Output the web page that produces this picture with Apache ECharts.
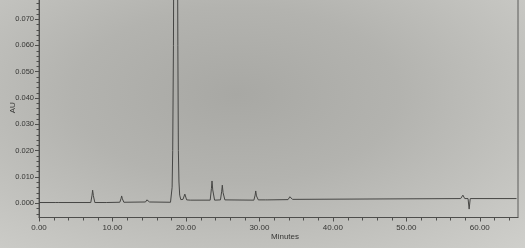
<!DOCTYPE html>
<html>
<head>
<meta charset="utf-8">
<script src="https://cdn.jsdelivr.net/npm/echarts@6/dist/echarts.min.js"></script>
<style>
html,body{margin:0;padding:0;}
body{width:525px;height:248px;overflow:hidden;
background:radial-gradient(ellipse at 45% 38%, #a8a8a4 0%, #b3b3af 40%, #c6c6c2 80%, #cfcfcb 100%);}
#c{width:525px;height:248px;}
</style>
</head>
<body>
<div id="c"></div>
<script>
// Retention time (minutes) and absorbance (AU)
const times = [0, 2.2, 2.45, 2.7, 7.05, 7.22, 7.3, 7.4, 7.6, 8.85, 9.0, 9.15,
  11.0, 11.18, 11.25, 11.35, 11.55, 14.5, 14.68, 14.75, 14.85, 15.05,
  17.9, 18.05, 18.12, 18.2, 18.3, 18.6, 18.9, 18.97, 19.05, 19.15, 19.3, 19.6, 19.85, 20.1, 20.6,
  23.3, 23.47, 23.55, 23.65, 23.9, 24.7, 24.87, 24.95, 25.05, 25.3,
  29.25, 29.42, 29.5, 29.6, 29.85, 30.85, 31.0, 31.15, 33.9, 34.07, 34.15, 34.25, 34.5,
  57.4, 57.7, 57.95, 58.4, 58.55, 58.7, 65];
const values = [0.0002, 0.0002, 0.0007, 0.0002, 0.0002, 0.0030, 0.0049, 0.0028, 0.0002, 0.0002, 0.0006, 0.0002,
  0.0003, 0.0018, 0.0027, 0.0016, 0.0003, 0.0004, 0.0012, 0.0018, 0.0011, 0.0004,
  0.0003, 0.0010, 0.0060, 0.0200, 0.0600, 0.3000, 0.0600, 0.0200, 0.0080, 0.0030, 0.0013, 0.0014, 0.0034, 0.0012, 0.0011,
  0.0011, 0.0055, 0.0084, 0.0050, 0.0011, 0.0012, 0.0045, 0.0068, 0.0040, 0.0012,
  0.0011, 0.0030, 0.0046, 0.0027, 0.0012, 0.0012, 0.0016, 0.0012, 0.0013, 0.0018, 0.0024, 0.0017, 0.0014,
  0.0017, 0.0030, 0.0017, 0.0017, -0.0023, 0.0017, 0.0017];

const xMajorTicks = [0, 10, 20, 30, 40, 50, 60];
const xMinorTicks = [2,4,6,8,12,14,16,18,22,24,26,28,32,34,36,38,42,44,46,48,52,54,56,58,62,64];
const yMajorTicks = [0, 0.01, 0.02, 0.03, 0.04, 0.05, 0.06, 0.07];
const yMinorTicks = [-0.004,-0.002,0.002,0.004,0.006,0.008,0.012,0.014,0.016,0.018,0.022,0.024,0.026,0.028,
  0.032,0.034,0.036,0.038,0.042,0.044,0.046,0.048,0.052,0.054,0.056,0.058,0.062,0.064,0.066,0.068,0.072,0.074,0.076];
const xLabelText = ['0.00','10.00','20.00','30.00','40.00','50.00','60.00'];
const yLabelText = ['0.000','0.010','0.020','0.030','0.040','0.050','0.060','0.070'];

const seriesData = times.map((t, i) => [t, values[i]]);

const X_MIN = 0, X_MAX = 65.2, Y_MIN = -0.0055, Y_MAX = 0.0780;
const FONT = "'Liberation Sans Narrow', 'Liberation Sans', sans-serif";
const axisColor = '#4e4e4c';
const textColor = '#363634';

const chart = echarts.init(document.getElementById('c'), null, {renderer: 'canvas'});
chart.setOption({
  backgroundColor: 'transparent',
  animation: false,
  grid: {left: 39, right: 7, top: -2, bottom: 30.5, containLabel: false, outerBoundsMode: 'none',
         show: true, backgroundColor: 'transparent', borderColor: '#5c5c5a', borderWidth: 1},
  xAxis: {type: 'value', min: X_MIN, max: X_MAX, position: 'bottom',
     name: 'Minutes', nameLocation: 'middle', nameGap: 15, nameMoveOverlap: false,
     nameTextStyle: {fontFamily: FONT, fontSize: 8, color: textColor, padding: [0,0,0,13]},
     axisLine: {show: true, onZero: false, lineStyle: {color: axisColor, width: 1}},
     axisTick: {show: true, length: 4, customValues: xMajorTicks, lineStyle: {color: axisColor}},
     axisLabel: {show: true, customValues: xMajorTicks, margin: 6, fontFamily: FONT, fontSize: 8, color: textColor,
       formatter: v => xLabelText[xMajorTicks.indexOf(v)] || ''},
     splitLine: {show: false}},
  yAxis: {type: 'value', min: Y_MIN, max: Y_MAX, position: 'left',
     name: 'AU', nameLocation: 'middle', nameGap: 22, nameRotate: 90, nameMoveOverlap: false,
     nameTextStyle: {fontFamily: FONT, fontSize: 8, color: textColor},
     axisLine: {show: true, onZero: false, lineStyle: {color: axisColor, width: 1}},
     axisTick: {show: true, length: 4, customValues: yMajorTicks, lineStyle: {color: axisColor}},
     axisLabel: {show: true, customValues: yMajorTicks, margin: 5, fontFamily: FONT, fontSize: 7.5, color: textColor,
       formatter: v => yLabelText[yMajorTicks.findIndex(m => Math.abs(m - v) < 1e-9)] || ''},
     splitLine: {show: false}},
  series: [
    {type: 'line', data: seriesData, showSymbol: false, smooth: false, clip: true,
     lineStyle: {color: '#464644', width: 1}, z: 3},
    // minor ticks on the time axis, placed through the axis scale
    {type: 'custom', data: xMinorTicks.map(v => [v, Y_MIN]), clip: false, silent: true,
     encode: {x: 0, y: 1},
     renderItem: (params, api) => {
       const p = api.coord([api.value(0), api.value(1)]);
       const x = Math.round(p[0]) + 0.5;
       return {type: 'line', shape: {x1: x, y1: p[1], x2: x, y2: p[1] + 3},
               style: {stroke: axisColor, lineWidth: 1}};
     }},
    // minor ticks on the AU axis
    {type: 'custom', data: yMinorTicks.map(v => [X_MIN, v]), clip: false, silent: true,
     encode: {x: 0, y: 1},
     renderItem: (params, api) => {
       const p = api.coord([api.value(0), api.value(1)]);
       const y = Math.round(p[1]) + 0.5;
       return {type: 'line', shape: {x1: p[0] - 2.5, y1: y, x2: p[0], y2: y},
               style: {stroke: axisColor, lineWidth: 1}};
     }}
  ]
});
</script>
</body>
</html>
